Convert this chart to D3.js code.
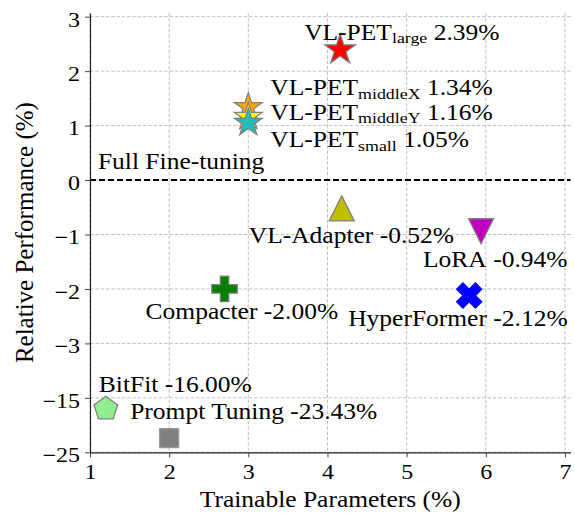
<!DOCTYPE html>
<html>
<head>
<meta charset="utf-8">
<script src="https://cdn.jsdelivr.net/npm/d3@7"></script>
</head>
<body style="margin:0">
<div id="chart"></div>
<script>
// data
const names = ["VL-PET", "VL-PET", "VL-PET", "VL-PET", "VL-Adapter", "LoRA", "Compacter", "HyperFormer", "BitFit", "Prompt Tuning"];
const subs = ["large", "middleX", "middleY", "small", "", "", "", "", "", ""];
const params = [4.16, 3.0, 3.0, 3.0, 4.18, 5.94, 2.70, 5.79, 1.2, 2.0];
const reported = [2.39, 1.34, 1.16, 1.05, -0.52, -0.94, -2.00, -2.12, -16.00, -23.43];
const plotted = [2.39, 1.34, 1.16, 1.05, -0.52, -0.94, -2.00, -2.12, -17.0, -22.4];
const xTicks = [1, 2, 3, 4, 5, 6, 7];
const yTicks = [-25, -15, -3, -2, -1, 0, 1, 2, 3];

// look of each marker
const fills = ["#ff0000", "#ffa500", "#ffff00", "#1fbfbf", "#bfbf00", "#bf00bf", "#008000", "#0000ff", "#90ee90", "#808080"];
const shapes = ["star", "star", "star", "star", "tri_up", "tri_down", "plus", "x", "pentagon", "square"];
const msize = [32, 29, 29, 29, 25, 25, 25.5, 25, 25, 19];
// label anchor offsets from the marker (px)
const labelOff = [[-36, -10], [22, -12], [22, 3], [22, 24.5], [-93, 35], [-58, 36], [-79, 30], [-121, 31], [-7, -17], [-39, -19]];

const serifFont = "'Liberation Serif', monospace";
const W = 575, H = 515;
const mLeft = 90, mRight = 570.5, mBottom = 452.3, unit = 54.45;
const mTop = mBottom - 8 * unit - 0.07 * unit;

const x = d3.scaleLinear().domain([1, 7.07]).range([mLeft, mRight]);
// broken axis: -25..-15 and -15..-3 get one tick step each
const y = d3.scaleLinear()
    .domain([-25, -15, -3, 3.07])
    .range([mBottom, mBottom - unit, mBottom - 2 * unit, mTop]);

const svg = d3.select("#chart").append("svg")
    .attr("width", W).attr("height", H)
    .style("display", "block")
    .style("font-family", serifFont);

// grid
svg.append("g")
    .selectAll("line")
    .data(xTicks)
    .enter().append("line")
    .attr("x1", d => x(d)).attr("x2", d => x(d))
    .attr("y1", mTop).attr("y2", mBottom)
    .attr("stroke", "#b0b0b0").attr("stroke-width", 0.8)
    .attr("stroke-dasharray", "3.5,1.8");
svg.append("g")
    .selectAll("line")
    .data(yTicks)
    .enter().append("line")
    .attr("x1", mLeft).attr("x2", mRight)
    .attr("y1", d => y(d)).attr("y2", d => y(d))
    .attr("stroke", "#b0b0b0").attr("stroke-width", 0.8)
    .attr("stroke-dasharray", "3.5,1.8");

// full fine-tuning baseline
svg.append("line")
    .attr("x1", mLeft).attr("x2", mRight)
    .attr("y1", y(0)).attr("y2", y(0))
    .attr("stroke", "#000").attr("stroke-width", 2)
    .attr("stroke-dasharray", "6,3");

// axes
const xAxis = svg.append("g")
    .attr("transform", `translate(0,${mBottom})`)
    .call(d3.axisBottom(x).tickValues(xTicks).tickSize(5).tickSizeOuter(0).tickFormat(d3.format("d")));
const yAxis = svg.append("g")
    .attr("transform", `translate(${mLeft},0)`)
    .call(d3.axisLeft(y).tickValues(yTicks).tickSize(5).tickSizeOuter(0).tickFormat(d3.format("d")));

[xAxis, yAxis].forEach(a => {
    a.attr("font-family", null).style("font-family", serifFont);
    a.select(".domain").attr("stroke", "#222").attr("stroke-width", 1.2);
    a.selectAll(".tick line").attr("stroke", "#444").attr("stroke-width", 1);
    a.selectAll(".tick text").attr("font-size", 24).attr("fill", "#000")
        .style("font-family", serifFont);
});
// the reference text is a little squashed vertically
xAxis.selectAll(".tick text")
    .attr("y", null).attr("dy", null)
    .attr("transform", "translate(0,26.7) scale(1,0.86)");
yAxis.selectAll(".tick text")
    .attr("x", null).attr("dy", null)
    .attr("text-anchor", "end")
    .attr("transform", "translate(-10,9.3) scale(1,0.86)");

// marker outlines in unit coordinates (extent +-0.5)
function regular(n, r, rot) {
    return d3.range(n).map(i => {
        const a = rot + i * 2 * Math.PI / n;
        return [r * Math.sin(a), -r * Math.cos(a)];
    });
}
const starPts = d3.range(10).map(i => {
    const r = i % 2 === 0 ? 0.5 : 0.5 * 0.381966;
    const a = i * Math.PI / 5;
    return [r * Math.sin(a), -r * Math.cos(a)];
});
const unitShapes = {
    star: starPts,
    tri_up: [[0, -0.5], [0.5, 0.5], [-0.5, 0.5]],
    tri_down: [[0, 0.5], [0.5, -0.5], [-0.5, -0.5]],
    plus: [[-1, -3], [1, -3], [1, -1], [3, -1], [3, 1], [1, 1], [1, 3], [-1, 3], [-1, 1], [-3, 1], [-3, -1], [-1, -1]].map(p => [p[0] / 6, p[1] / 6]),
    x: [[-1, -2], [0, -1], [1, -2], [2, -1], [1, 0], [2, 1], [1, 2], [0, 1], [-1, 2], [-2, 1], [-1, 0], [-2, -1]].map(p => [p[0] / 4, p[1] / 4]),
    pentagon: regular(5, 0.5, 0),
    square: [[-0.5, -0.5], [0.5, -0.5], [0.5, 0.5], [-0.5, 0.5]]
};
const outline = d3.line().curve(d3.curveLinearClosed);

const idx = d3.range(names.length);

svg.append("g")
    .selectAll("path")
    .data(idx)
    .enter().append("path")
    .attr("transform", i => `translate(${x(params[i])},${y(plotted[i])})`)
    .attr("d", i => outline(unitShapes[shapes[i]].map(p => [p[0] * msize[i], p[1] * msize[i]])))
    .attr("fill", i => fills[i])
    .attr("stroke", i => shapes[i] === "x" ? "#0000ff" : (shapes[i] === "square" ? "#999" : "#808080"))
    .attr("stroke-width", 1.3)
    .attr("stroke-linejoin", "miter");

// labels
const fs = 25.5;
const labels = svg.append("g")
    .selectAll("text")
    .data(idx)
    .enter().append("text")
    .attr("font-size", fs)
    .style("font-family", serifFont)
    .attr("transform", i => `translate(${x(params[i]) + labelOff[i][0]},${y(plotted[i]) + labelOff[i][1]}) scale(1,0.87)`);
labels.append("tspan").text(i => names[i]);
labels.filter(i => subs[i] !== "")
    .append("tspan")
    .attr("font-size", fs * 0.7)
    .attr("dy", 4)
    .text(i => subs[i]);
labels.append("tspan")
    .attr("dy", i => subs[i] !== "" ? -4 : 0)
    .text(i => " " + reported[i].toFixed(2) + "%");

svg.append("text")
    .attr("font-size", fs)
    .style("font-family", serifFont)
    .attr("transform", `translate(${x(1.1)},${y(0) - 11}) scale(1,0.87)`)
    .text("Full Fine-tuning");

// axis titles
svg.append("text")
    .attr("font-size", 25.5)
    .style("font-family", serifFont)
    .attr("text-anchor", "middle")
    .attr("transform", `translate(${(mLeft + mRight) / 2},507.3) scale(1,0.87)`)
    .text("Trainable Parameters (%)");
svg.append("text")
    .attr("font-size", 25)
    .style("font-family", serifFont)
    .attr("text-anchor", "middle")
    .attr("transform", `translate(33,${(mTop + mBottom) / 2}) rotate(-90)`)
    .text("Relative Performance (%)");
</script>
</body>
</html>
